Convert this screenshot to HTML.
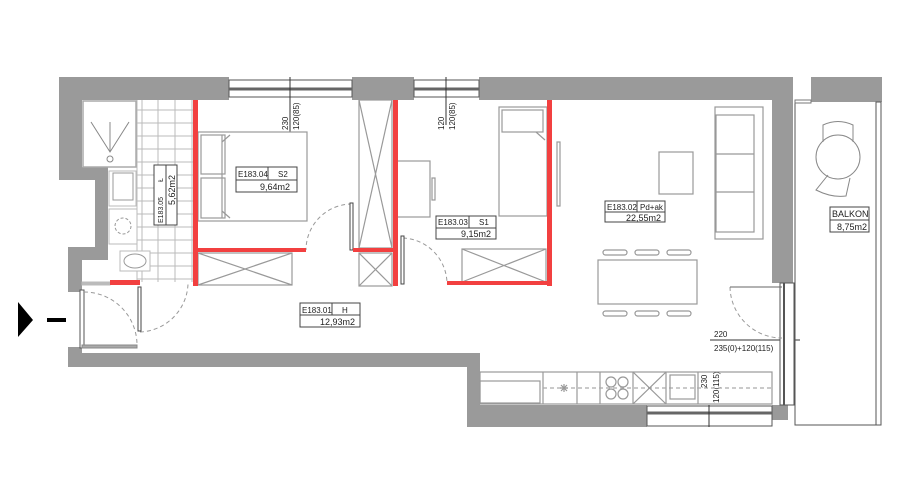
<!DOCTYPE html>
<html><head><meta charset="utf-8"><style>
html,body{margin:0;padding:0;background:#fff;width:900px;height:504px;overflow:hidden}
svg{display:block}
text{font-family:"Liberation Sans",sans-serif;fill:#222}
</style></head><body>
<svg width="900" height="504" viewBox="0 0 900 504" xmlns="http://www.w3.org/2000/svg">
<g fill="#9a9a9a">
<rect x="59" y="77" width="170" height="23"/>
<rect x="352" y="77" width="62" height="23"/>
<rect x="479" y="77" width="314" height="23"/>
<rect x="59" y="77" width="23" height="103"/>
<rect x="59" y="167" width="49" height="13"/>
<rect x="95" y="167" width="13" height="82"/>
<rect x="68" y="247" width="40" height="13"/>
<rect x="68" y="247" width="14" height="45"/>
<rect x="68" y="347" width="14" height="20"/>
<rect x="68" y="353" width="412" height="14"/>
<rect x="467" y="353" width="13" height="74"/>
<rect x="467" y="405" width="180" height="22"/>
<rect x="772" y="77" width="21" height="206"/>
<rect x="772" y="405" width="16" height="15"/>
<rect x="811" y="77" width="71" height="25"/>
</g>
<g stroke="#555" fill="#fff" stroke-width="1">
<rect x="229" y="80" width="123" height="17"/>
<line x1="229" y1="89" x2="352" y2="89" stroke-width="3" stroke="#666"/>
<rect x="414" y="80" width="65" height="17"/>
<line x1="414" y1="89" x2="479" y2="89" stroke-width="3" stroke="#666"/>
<rect x="647" y="406" width="125" height="20"/>
<line x1="647" y1="413" x2="772" y2="413" stroke-width="3" stroke="#666"/>
<rect x="80" y="290" width="4" height="58"/>
<rect x="82" y="345" width="55" height="3" fill="#aaa" stroke="#888"/>
</g>
<g stroke="#333" stroke-width="1">
<line x1="290" y1="77" x2="290" y2="132"/>
<line x1="446" y1="77" x2="446" y2="125"/>
<line x1="709" y1="405" x2="709" y2="427"/>
<line x1="710" y1="340" x2="800" y2="340"/>
</g>
<g font-size="8">
<text transform="translate(288,130) rotate(-90)">230</text>
<text transform="translate(299,130) rotate(-90)">120(85)</text>
<text transform="translate(444,130) rotate(-90)">120</text>
<text transform="translate(455,130) rotate(-90)">120(85)</text>
<text transform="translate(707,388) rotate(-90)">230</text>
<text transform="translate(719,403) rotate(-90)">120(115)</text>
<text x="714" y="337" font-size="8">220</text>
<text x="714" y="351" font-size="8">235(0)+120(115)</text>
</g>
<g fill="none" stroke="#555">
<path d="M795 102 V425 H878"/>
<rect x="876" y="102" width="5" height="323"/>
<rect x="780" y="283" width="14" height="122" fill="#fff"/>
<line x1="784" y1="283" x2="784" y2="405" stroke-width="2"/>
<rect x="795" y="100" width="16" height="3" stroke="#777"/>
<circle cx="838" cy="157" r="22" stroke="#888"/>
<path d="M823 142 V125 Q838 118 853 125 V142" stroke="#888"/>
<path d="M828 175 L816 190 Q832 198 846 196 L850 178" stroke="#888"/>
</g>
<rect x="830" y="207" width="39" height="25" fill="#fff" stroke="#444"/>
<line x1="830" y1="220" x2="869" y2="220" stroke="#444"/>
<text x="832" y="217" font-size="9">BALKON</text>
<text x="837" y="230" font-size="9">8,75m2</text>
<g fill="none" stroke="#bbb" stroke-width="1">
<g>
<line x1="142" y1="100" x2="142" y2="282"/><line x1="158" y1="100" x2="158" y2="282"/>
<line x1="175" y1="100" x2="175" y2="282"/><line x1="192" y1="100" x2="192" y2="282"/>
<line x1="137" y1="110" x2="193" y2="110"/><line x1="137" y1="123" x2="193" y2="123"/>
<line x1="137" y1="136" x2="193" y2="136"/><line x1="137" y1="149" x2="193" y2="149"/>
<line x1="137" y1="162" x2="193" y2="162"/><line x1="137" y1="175" x2="193" y2="175"/>
<line x1="137" y1="188" x2="193" y2="188"/><line x1="137" y1="201" x2="193" y2="201"/>
<line x1="137" y1="214" x2="193" y2="214"/><line x1="137" y1="227" x2="193" y2="227"/>
<line x1="137" y1="240" x2="193" y2="240"/><line x1="137" y1="253" x2="193" y2="253"/>
<line x1="137" y1="266" x2="193" y2="266"/><line x1="137" y1="279" x2="193" y2="279"/>
<line x1="137" y1="100" x2="137" y2="282"/>
</g>
<rect x="83" y="101" width="53" height="66" fill="#fff" stroke="#aaa" stroke-width="1.5"/>
<path d="M91 122 L110 152 L129 122 M110 122 V152" stroke="#888"/>
<circle cx="110" cy="159" r="3" stroke="#888"/>
<rect x="109" y="171" width="27" height="35" fill="#fff"/>
<rect x="113" y="173" width="20" height="27" stroke="#999"/>
<rect x="109" y="209" width="28" height="35" fill="#fff"/>
<circle cx="123" cy="226" r="8" stroke-dasharray="3 2" stroke="#999"/>
<rect x="120" y="251" width="30" height="20" fill="#fff"/>
<ellipse cx="135" cy="261" rx="11" ry="7" stroke="#999"/>
<rect x="82" y="282" width="28" height="3" fill="#bbb"/>
</g>
<rect x="154" y="165" width="23" height="60" fill="#fff" stroke="#444"/>
<line x1="166" y1="165" x2="166" y2="225" stroke="#444"/>
<text transform="translate(163,223) rotate(-90)" font-size="7">E183.05</text>
<text transform="translate(163,182) rotate(-90)" font-size="7">Ł</text>
<text transform="translate(175,205) rotate(-90)" font-size="9">5,62m2</text>
<g fill="none" stroke="#999" stroke-width="1.2">
<rect x="198" y="132" width="109" height="89"/>
<rect x="201" y="135" width="24" height="39"/>
<rect x="201" y="178" width="24" height="40"/>
<path d="M222 135 V218 M222 142 L230 135 M222 211 L230 218"/>
<rect x="198" y="253" width="94" height="32"/><path d="M198 253 L292 285 M292 253 L198 285"/>
<rect x="359" y="100" width="33" height="148"/><path d="M359 100 L392 248 M392 100 L359 248"/>
<rect x="359" y="253" width="33" height="33"/><path d="M359 253 L392 286 M392 253 L359 286"/>
<rect x="397" y="161" width="33" height="56"/>
<rect x="432" y="178" width="3" height="22"/>
<rect x="499" y="107" width="48" height="109"/>
<rect x="502" y="110" width="41" height="22"/>
<path d="M536 132 L545 140"/>
<rect x="462" y="249" width="84" height="33"/><path d="M462 249 L546 282 M546 249 L462 282"/>
<rect x="557" y="142" width="3" height="64"/>
<rect x="659" y="152" width="34" height="42"/>
<rect x="715" y="107" width="48" height="132"/>
<rect x="716" y="115" width="38" height="117"/>
<path d="M716 154 H754 M716 192 H754"/>
<rect x="598" y="260" width="99" height="44"/>
<rect x="603" y="250" width="24" height="5" rx="2.5"/><rect x="635" y="250" width="24" height="5" rx="2.5"/><rect x="667" y="250" width="24" height="5" rx="2.5"/>
<rect x="603" y="311" width="24" height="5" rx="2.5"/><rect x="635" y="311" width="24" height="5" rx="2.5"/><rect x="667" y="311" width="24" height="5" rx="2.5"/>
<rect x="480" y="372" width="292" height="32"/>
<rect x="480" y="381" width="60" height="22"/>
<path d="M543 372 V404 M577 372 V404 M600 372 V404 M633 372 V404 M666 372 V404 M698 372 V404"/>
<line x1="543" y1="388" x2="772" y2="388" stroke-dasharray="4 3" stroke="#aaa"/>
<circle cx="611" cy="382" r="5"/><circle cx="623" cy="382" r="5"/><circle cx="611" cy="394" r="5"/><circle cx="623" cy="394" r="5"/>
<path d="M633 372 L666 404 M666 372 L633 404"/>
<rect x="670" y="375" width="25" height="24"/>
<path d="M560 388 h8 M564 384 v8 M561 385 l6 6 M567 385 l-6 6"/>
</g>
<g fill="none" stroke="#999" stroke-dasharray="4 3">
<path d="M352 204 A46 46 0 0 0 306 250"/>
<path d="M403 238 A46 46 0 0 1 447 284"/>
<path d="M140 332 A50 50 0 0 0 188 284"/>
<path d="M84 292 A53 53 0 0 1 137 345"/>
<path d="M730 287 A52 52 0 0 0 782 338"/>
</g>
<g fill="#fff" stroke="#444">
<rect x="350" y="203" width="3" height="47"/>
<rect x="401" y="236" width="3" height="48"/>
<rect x="138" y="287" width="3" height="44"/>
<line x1="730" y1="287" x2="782" y2="287" stroke="#666"/>
</g>
<g fill="#f24040">
<rect x="193" y="100" width="5" height="186"/>
<rect x="193" y="248" width="113" height="4"/>
<rect x="393" y="100" width="5" height="186"/>
<rect x="353" y="248" width="41" height="4"/>
<rect x="547" y="100" width="5" height="186"/>
<rect x="447" y="281" width="105" height="4"/>
<rect x="110" y="280" width="30" height="5"/>
</g>
<g font-size="8">
<rect x="236" y="167" width="61" height="25" fill="#fff" stroke="#444"/>
<path d="M236 180 H297 M268 167 V180" stroke="#444"/>
<text x="238" y="177">E183.04</text><text x="278" y="177">S2</text>
<text x="260" y="190" font-size="9">9,64m2</text>
<rect x="436" y="216" width="60" height="23" fill="#fff" stroke="#444"/>
<path d="M436 228 H496 M469 216 V228" stroke="#444"/>
<text x="438" y="225">E183.03</text><text x="479" y="225">S1</text>
<text x="461" y="237" font-size="9">9,15m2</text>
<rect x="605" y="201" width="60" height="21" fill="#fff" stroke="#444"/>
<path d="M605 212 H665 M637 201 V212" stroke="#444"/>
<text x="607" y="210">E183.02</text><text x="640" y="210">Pd+ak</text>
<text x="626" y="221" font-size="9">22,55m2</text>
<rect x="300" y="303" width="60" height="24" fill="#fff" stroke="#444"/>
<path d="M300 315 H360 M332 303 V315" stroke="#444"/>
<text x="302" y="313">E183.01</text><text x="342" y="313">H</text>
<text x="320" y="325" font-size="9">12,93m2</text>
</g>
<polygon points="18,302 33,320 18,337" fill="#000"/>
<rect x="47" y="318" width="19" height="4" fill="#000"/>
</svg>
</body></html>
